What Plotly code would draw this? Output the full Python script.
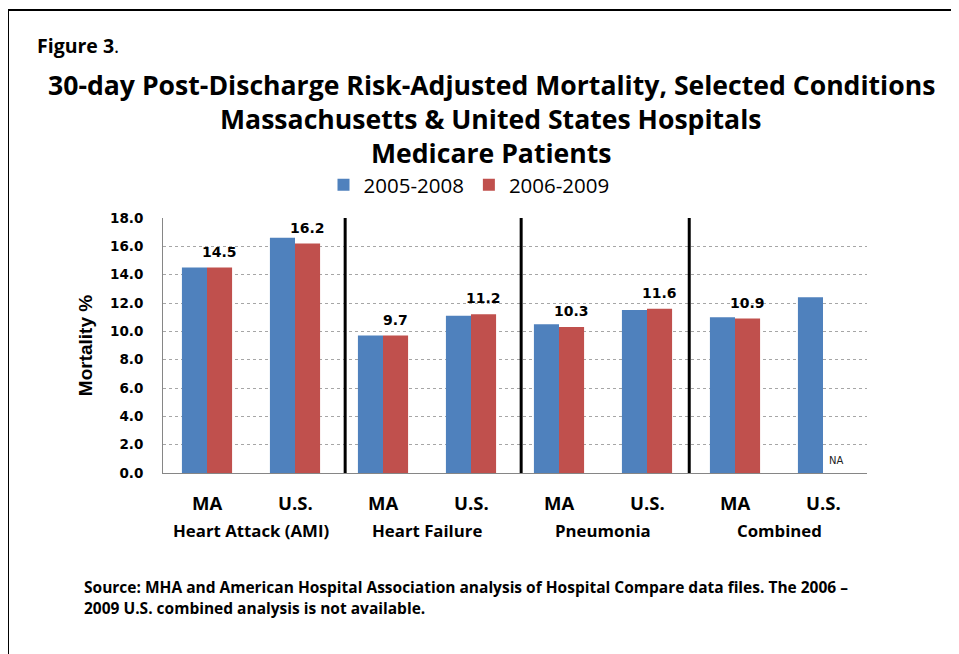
import plotly.graph_objects as go

# ---------------- data ----------------
conditions = ["Heart Attack (AMI)", "Heart Failure", "Pneumonia", "Combined"]
sites = ["MA", "U.S.", "MA", "U.S.", "MA", "U.S.", "MA", "U.S."]
series_names = ["2005-2008", "2006-2009"]
v_2005_2008 = [14.5, 16.6, 9.7, 11.1, 10.5, 11.5, 11.0, 12.4]
v_2006_2009 = [14.5, 16.2, 9.7, 11.2, 10.3, 11.6, 10.9, None]
y_ticks = [0, 2, 4, 6, 8, 10, 12, 14, 16, 18]

# ---------------- geometry (pixels, in screenshot coordinates) ----------------
OFF = 8  # page body margin
WIDTH, HEIGHT = 959, 654
L, R, T, B = 163 - OFF, 867 - OFF, 218 - OFF, 473 - OFF
PW, PH = R - L, B - T


def px(xp):
    return (xp - OFF - L) / PW


def py(yp):
    return (B - (yp - OFF)) / PH


BLUE = "#4F81BD"
RED = "#C0504D"
CAL = "'Open Sans', Lato, sans-serif"
VER = "'DejaVu Sans', Verdana, sans-serif"

xs = list(range(len(sites)))
fig = go.Figure()
fig.add_trace(go.Bar(x=xs, y=v_2005_2008, name=series_names[0],
                     marker=dict(color=BLUE, line=dict(width=0))))
fig.add_trace(go.Bar(x=xs, y=v_2006_2009, name=series_names[1],
                     marker=dict(color=RED, line=dict(width=0))))

bargap = 0.43
half = (1 - bargap) / 4  # offset of each bar center from category center

annotations = []
# value labels above 2006-2009 bars
for i, v in enumerate(v_2006_2009):
    if v is not None:
        annotations.append(dict(x=i + half, y=v, xref="x", yref="y", text=f"{v:.1f}",
                                showarrow=False, yanchor="bottom", yshift=6,
                                font=dict(family=VER, size=14, color="#000", weight="bold")))
    else:
        annotations.append(dict(x=i + half, y=0, xref="x", yref="y", text="NA",
                                showarrow=False, yanchor="bottom", yshift=5,
                                font=dict(family=VER, size=10, color="#222")))

# site labels
for i, s in enumerate(sites):
    annotations.append(dict(x=i, y=0, xref="x", yref="y", text=s, showarrow=False,
                            yanchor="top", yshift=-15,
                            font=dict(family=CAL, size=18.5, color="#000", weight="bold")))
# condition labels
for k, c in enumerate(conditions):
    annotations.append(dict(x=2 * k + 0.5, y=0, xref="x", yref="y", text=c, showarrow=False,
                            yanchor="top", yshift=-44,
                            font=dict(family=CAL, size=16.8, color="#000", weight="bold")))

# titles
annotations += [
    dict(x=px(35), y=py(45), xref="paper", yref="paper", xanchor="left", yanchor="middle",
         text="<b>Figure 3</b>.", showarrow=False, font=dict(family=CAL, size=19.5, color="#000")),
    dict(x=px(491), y=py(85), xref="paper", yref="paper", xanchor="center", yanchor="middle",
         text="30-day Post-Discharge Risk-Adjusted Mortality, Selected Conditions", showarrow=False,
         font=dict(family=CAL, size=26.6, color="#000", weight="bold")),
    dict(x=px(491), y=py(119), xref="paper", yref="paper", xanchor="center", yanchor="middle",
         text="Massachusetts &amp; United States Hospitals", showarrow=False,
         font=dict(family=CAL, size=26.6, color="#000", weight="bold")),
    dict(x=px(491), y=py(153), xref="paper", yref="paper", xanchor="center", yanchor="middle",
         text="Medicare Patients", showarrow=False,
         font=dict(family=CAL, size=26.6, color="#000", weight="bold")),
    dict(x=px(82), y=py(587), xref="paper", yref="paper", xanchor="left", yanchor="middle",
         text="Source: MHA and American Hospital Association analysis of Hospital Compare data files. The 2006 \u2013",
         showarrow=False, font=dict(family=CAL, size=15.5, color="#000", weight="bold")),
    dict(x=px(82), y=py(608), xref="paper", yref="paper", xanchor="left", yanchor="middle",
         text="2009 U.S. combined analysis is not available.",
         showarrow=False, font=dict(family=CAL, size=15.5, color="#000", weight="bold")),
]

shapes = []
# group separators
for sx in [1.57, 3.57, 5.48]:
    shapes.append(dict(type="line", xref="x", yref="y", x0=sx, x1=sx, y0=-0.3, y1=18,
                       line=dict(color="#000", width=3)))
# frame (top and left edges)
shapes.append(dict(type="line", xref="paper", yref="paper", x0=px(7), x1=px(970),
                   y0=py(10), y1=py(10), line=dict(color="#000", width=2)))
shapes.append(dict(type="line", xref="paper", yref="paper", x0=px(8), x1=px(8),
                   y0=py(10), y1=py(670), line=dict(color="#000", width=2)))

fig.update_layout(
    width=WIDTH, height=HEIGHT,
    margin=dict(l=L, r=WIDTH - R, t=T, b=HEIGHT - B, autoexpand=False),
    paper_bgcolor="white", plot_bgcolor="white",
    barmode="group", bargap=bargap, bargroupgap=0,
    showlegend=True,
    legend=dict(orientation="h", x=px(469), y=py(185), xanchor="center", yanchor="middle",
                font=dict(family=CAL, size=20.5, color="#000"), itemwidth=30,
                traceorder="normal", bgcolor="rgba(0,0,0,0)"),
    xaxis=dict(range=[-0.5, 7.5], tickvals=xs, showticklabels=False, showgrid=False,
               showline=True, linecolor="#868686", linewidth=1, zeroline=False, fixedrange=True),
    yaxis=dict(range=[0, 18], tickvals=y_ticks, tickformat=".1f", showgrid=True,
               gridcolor="#A6A6A6", griddash="dot", gridwidth=1,
               showline=True, linecolor="#868686", linewidth=1, zeroline=False,
               ticks="", ticklabelstandoff=16,
               tickfont=dict(family=VER, size=13.5, color="#000", weight="bold"),
               title=dict(text="Mortality %", standoff=12,
                          font=dict(family="'Liberation Sans', Arial, sans-serif", size=19,
                                    color="#000", weight="bold"))),
    annotations=annotations, shapes=shapes,
)

fig.write_html("out.html")
